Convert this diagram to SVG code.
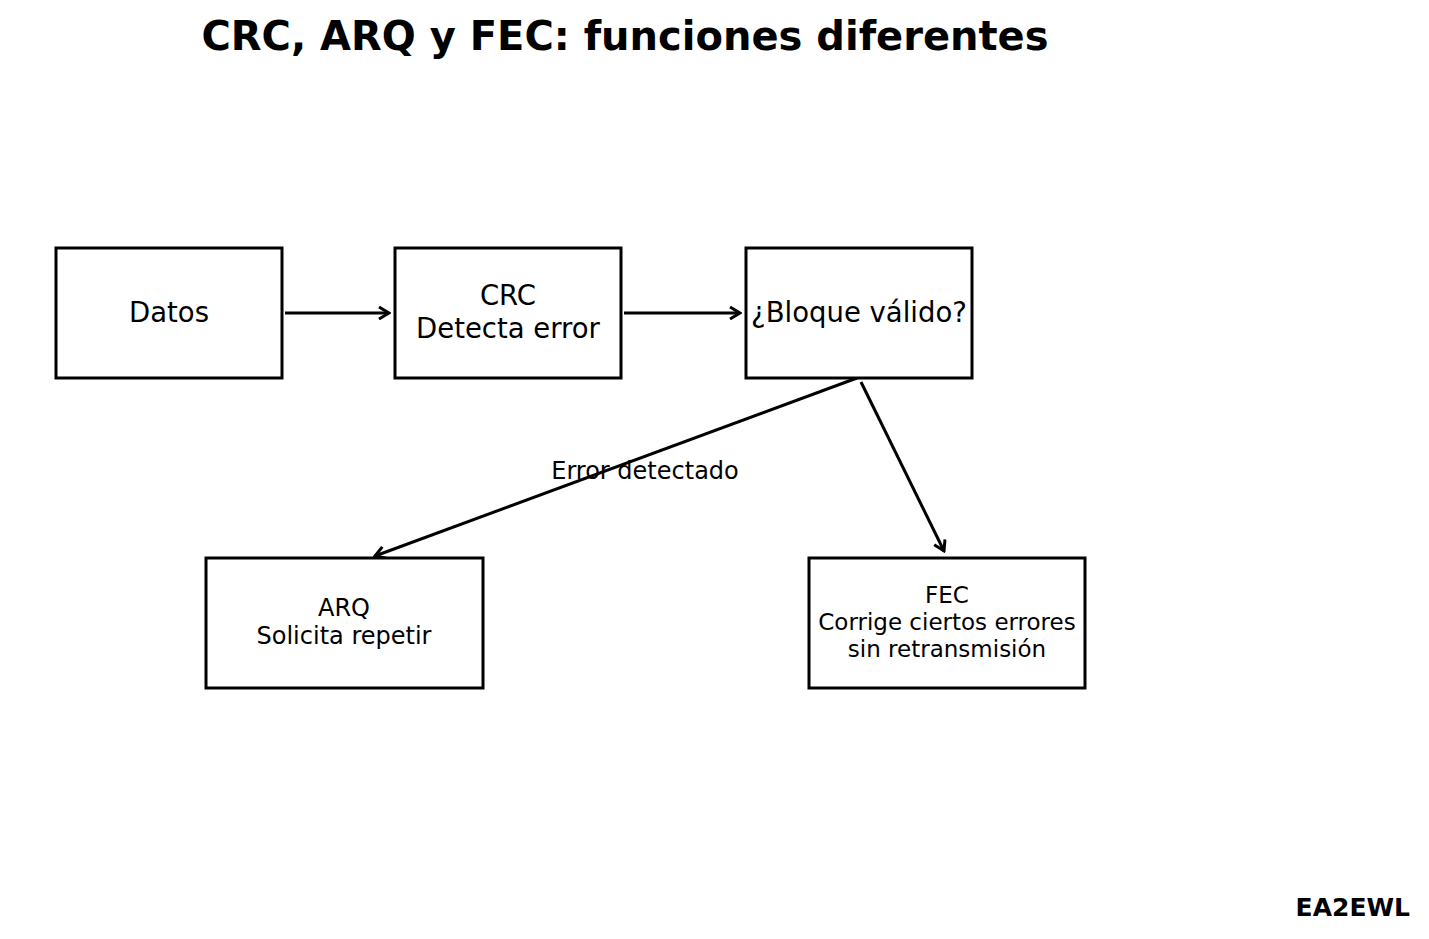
<svg xmlns="http://www.w3.org/2000/svg" width="1429" height="939" viewBox="0 0 1429 939">
<style>
text{font-family:"DejaVu Sans",sans-serif;fill:#000;text-anchor:middle}
.box{fill:#fff;stroke:#000;stroke-width:3}
.c{stroke:#000;stroke-width:3;fill:none;marker-end:url(#a)}
</style>
<defs><marker id="a" markerWidth="14" markerHeight="14" refX="12" refY="7" orient="auto" markerUnits="userSpaceOnUse"><path d="M2,1 L12,7 L2,13" fill="none" stroke="#000" stroke-width="3"/></marker></defs>
<rect width="1429" height="939" fill="#fff"/>
<text x="625" y="50" font-size="40" font-weight="bold">CRC, ARQ y FEC: funciones diferentes</text>
<g id="connectors">
<line class="c" x1="285" y1="313" x2="389" y2="313"/>
<line class="c" x1="624" y1="313" x2="740" y2="313"/>
<line class="c" x1="857" y1="378" x2="375" y2="556"/>
<line class="c" x1="861" y1="382" x2="944" y2="551"/>
<text x="645" y="479" font-size="24">Error detectado</text>
</g>
<g id="datos"><rect class="box" x="56" y="248" width="226" height="130"/><text x="169" y="322" font-size="27.5">Datos</text></g>
<g id="crc"><rect class="box" x="395" y="248" width="226" height="130"/><text x="508" y="305" font-size="27.5">CRC</text><text x="508" y="338" font-size="27.5">Detecta error</text></g>
<g id="bloque"><rect class="box" x="746" y="248" width="226" height="130"/><text x="859" y="322" font-size="27.5">¿Bloque válido?</text></g>
<g id="arq"><rect class="box" x="206" y="558" width="277" height="130"/><text x="344" y="616" font-size="24">ARQ</text><text x="344" y="644" font-size="24">Solicita repetir</text></g>
<g id="fec"><rect class="box" x="809" y="558" width="276" height="130"/><text x="947" y="603" font-size="23">FEC</text><text x="947" y="630" font-size="23">Corrige ciertos errores</text><text x="947" y="657" font-size="23">sin retransmisión</text></g>
<text x="1410" y="916" font-size="25" font-weight="bold" style="text-anchor:end">EA2EWL</text>
</svg>
